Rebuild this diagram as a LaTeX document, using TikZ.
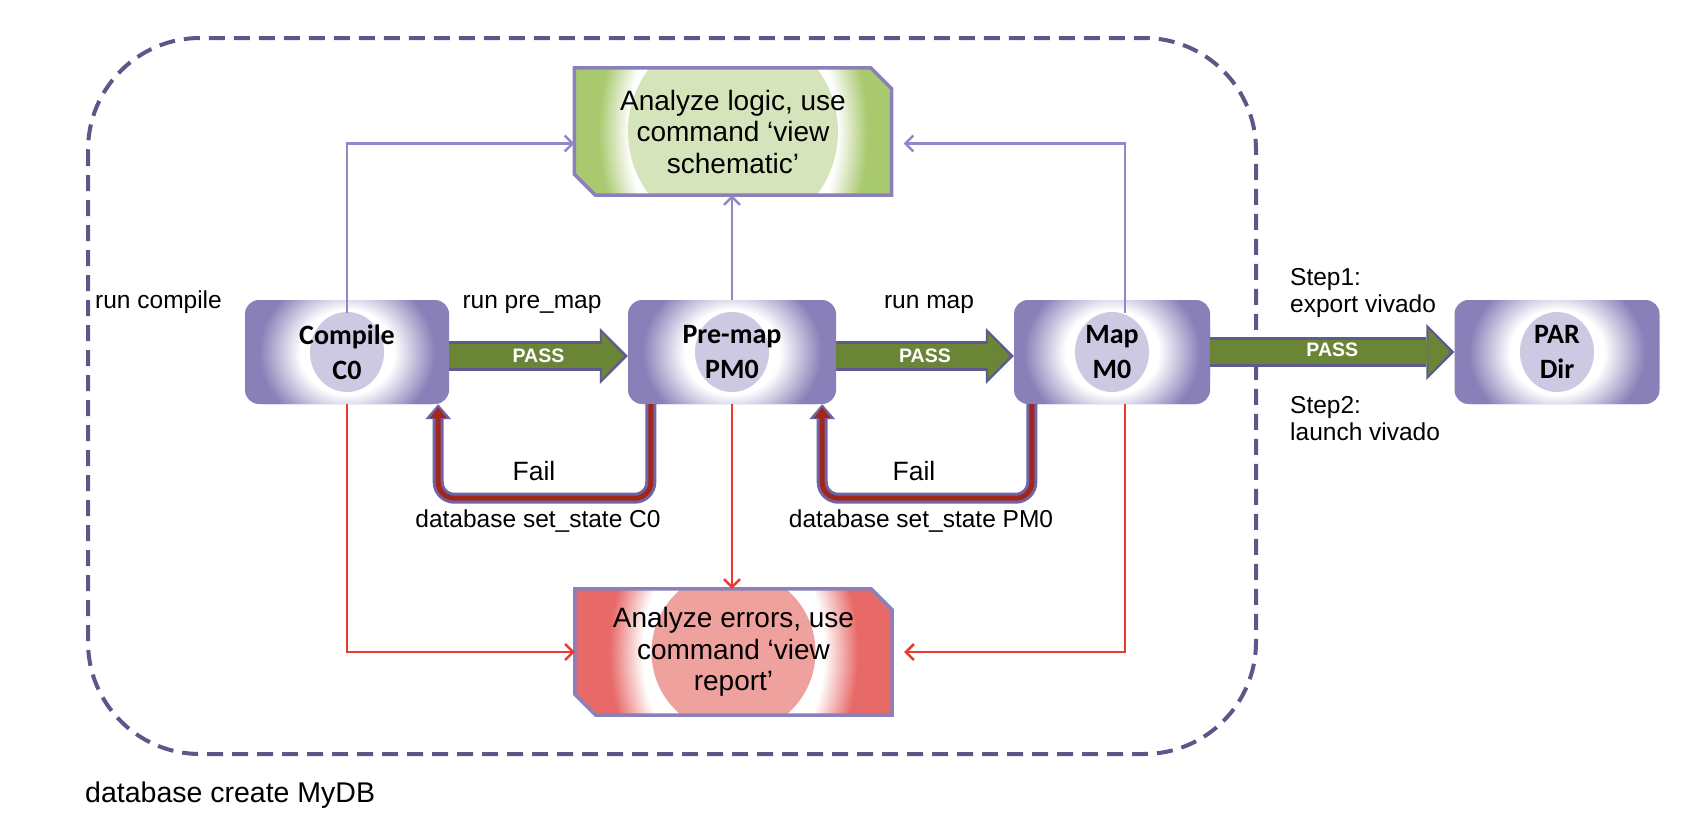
\documentclass[tikz,border=0pt]{standalone}
\usepackage{fontspec}
\setmainfont{Liberation Sans}
\newfontfamily\boxfont{Carlito}
\usetikzlibrary{arrows.meta,calc,backgrounds}

\definecolor{stagepurple}{HTML}{8A80B9}
\definecolor{stagecore}{HTML}{CEC8E2}
\definecolor{linkpurple}{HTML}{9287C9}
\definecolor{linkred}{HTML}{EC3A2E}
\definecolor{failpurple}{HTML}{6E66A3}
\definecolor{failred}{HTML}{A3261D}
\definecolor{passgreen}{HTML}{6B8536}
\definecolor{passedge}{HTML}{5F5B8E}
\definecolor{dashpurple}{HTML}{5F5588}
\definecolor{logicedge}{HTML}{A9C96F}
\definecolor{logiccore}{HTML}{D6E4BC}
\definecolor{erredge}{HTML}{E86A68}
\definecolor{errcore}{HTML}{EFA19D}
\definecolor{boxline}{HTML}{8A80BA}

\pgfdeclareradialshading{stageglow}{\pgfpoint{0bp}{0bp}}{color(0bp)=(white); color(11.5bp)=(white); color(21.5bp)=(stagepurple); color(50bp)=(stagepurple)}
\pgfdeclareradialshading{logicglow}{\pgfpoint{0bp}{0bp}}{color(0bp)=(white); color(15.5bp)=(white); color(20bp)=(logicedge); color(50bp)=(logicedge)}
\pgfdeclareradialshading{errglow}{\pgfpoint{0bp}{0bp}}{color(0bp)=(white); color(13.5bp)=(white); color(18.5bp)=(erredge); color(50bp)=(erredge)}

\newcommand\chamferpath[2]{\path[#2] (#1.north west) -- ([xshift=-21pt]#1.north east) -- ([yshift=-21pt]#1.north east) -- (#1.south east) -- ([xshift=21pt]#1.south west) -- ([yshift=21pt]#1.south west) -- cycle;}

\begin{document}
\begin{tikzpicture}[x=1pt,y=-1pt,
  stagebox/.style={rectangle, rounded corners=14pt, minimum width=#1, minimum height=104pt,
    inner sep=0pt, fill=stagepurple, align=center,
    font=\boxfont\bfseries\fontsize{28}{35}\selectfont,
    path picture={
      \shade[shading=stageglow] (path picture bounding box.center) ellipse [x radius=102pt, y radius=92pt];
      \fill[stagecore] (path picture bounding box.center) ellipse [x radius=37pt, y radius=40pt];}},
  stagebox/.default=204pt,
  notebox/.style={rectangle, minimum width=317pt, minimum height=127pt, inner sep=0pt,
    align=center, font=\fontsize{28}{31.5}\selectfont},
  lbl/.style={inner sep=0pt, font=\fontsize{24.5}{27}\selectfont},
  faillbl/.style={inner sep=0pt, font=\fontsize{26.5}{30}\selectfont},
  passtext/.style={inner sep=0pt, text=white, font=\bfseries\fontsize{19.5}{20}\selectfont},
  lightlink/.style={line width=2.5pt, draw=linkpurple, -{Straight Barb[length=8pt,width=16pt]}},
  redlink/.style={line width=2.5pt, draw=linkred, -{Straight Barb[length=8pt,width=16pt]}},
  passout/.style={line width=30pt, draw=passedge, -{Triangle[length=28pt,width=56pt,line width=0pt]}},
  passin/.style={line width=24pt, draw=passgreen, shorten >=4pt, -{Triangle[length=22pt,width=46pt,line width=0pt]}},
  failout/.style={line width=11pt, draw=failpurple, rounded corners=16pt, -{Triangle[length=15pt,width=26pt,line width=0pt]}},
  failin/.style={line width=5pt, draw=failred, rounded corners=16pt, shorten >=3pt, -{Triangle[length=11pt,width=17pt,line width=0pt]}}
]
\useasboundingbox (0,0) rectangle (1690,830);

% outer dashed frame
\draw[dashpurple, line width=4pt, dash pattern=on 16pt off 9pt, rounded corners=112pt] (88,38) rectangle (1256,754);

% stage boxes
\node[stagebox] (c0) at (347,352) {Compile\\C0};
\node[stagebox=208pt] (pm0) at (732,352) {Pre-map\\PM0};
\node[stagebox=196pt] (m0) at (1112,352) {Map\\M0};
\node[stagebox=205pt] (par) at (1557,352) {PAR\\Dir};

% note boxes
\node[notebox] (logic) at (733,131.5) {Analyze logic, use\\command ‘view\\schematic’};
\node[notebox, minimum height=126pt] (errors) at (733.5,652) {Analyze errors, use\\command ‘view\\report’};

\begin{scope}[on background layer]
  \begin{scope}
    \chamferpath{logic}{clip}
    \fill[logicedge] (logic.north west) rectangle (logic.south east);
    \shade[shading=logicglow] (logic.center) ellipse [x radius=168pt, y radius=230pt];
    \fill[logiccore] (logic.center) circle [radius=105pt];
  \end{scope}
  \begin{scope}
    \chamferpath{errors}{clip}
    \fill[erredge] (errors.north west) rectangle (errors.south east);
    \shade[shading=errglow] (errors.center) ellipse [x radius=168pt, y radius=230pt];
    \fill[errcore] (errors.center) circle [radius=82pt];
  \end{scope}
\end{scope}
\chamferpath{logic}{draw=boxline, line width=3.5pt, line join=miter}
\chamferpath{errors}{draw=boxline, line width=3.5pt, line join=miter}

% links to logic box
\draw[lightlink] ($(c0.north)+(0,13)$) |- ($(logic.west)+(0,12)$);
\draw[lightlink] (pm0.north) -- (pm0.north |- logic.south);
\draw[lightlink, shorten >=12pt] ($(m0.north)+(13,13)$) |- ($(logic.east)+(0,12)$);

% links to errors box
\draw[redlink] (c0.south) |- (errors.west);
\draw[redlink] (pm0.south) -- (pm0.south |- errors.north);
\draw[redlink, shorten >=12pt] ($(m0.south)+(13,0)$) |- (errors.east);

% PASS arrows
\draw[passout] ([yshift=-4pt]c0.east) -- ([yshift=-4pt]pm0.west);
\draw[passin] ([yshift=-4pt]c0.east) -- ([yshift=-4pt]pm0.west) node[passtext, midway] (pass1) {PASS};
\draw[passout] ([yshift=-4pt]pm0.east) -- ([yshift=-4pt]m0.west);
\draw[passin] ([yshift=-4pt]pm0.east) -- ([yshift=-4pt]m0.west) node[passtext, midway] (pass2) {PASS};
\draw[passout] (m0.east) -- (par.west);
\draw[passin] (m0.east) -- (par.west) node[passtext, midway, yshift=2pt] (pass3) {PASS};

% Fail arrows
\coordinate (f1a) at ($(pm0.south west)+(23,0)$);
\coordinate (f1b) at ($(c0.south east)+(-11,0)$);
\coordinate (f2a) at ($(m0.south west)+(18,0)$);
\coordinate (f2b) at ($(pm0.south east)+(-14,0)$);
\draw[failout] (f1a) -- ++(0,94) -| (f1b);
\draw[failin] (f1a) -- ++(0,94) -| (f1b);
\draw[failout] (f2a) -- ++(0,94) -| (f2b);
\draw[failin] (f2a) -- ++(0,94) -| (f2b);

% labels
\node[lbl, anchor=base west] (runcompile) at (95,308) {run compile};
\node[lbl, anchor=base] (runpremap) at (532,308) {run pre\_map};
\node[lbl, anchor=base] (runmap) at (929,308) {run map};
\node[faillbl, anchor=base] (fail1) at (534,480) {Fail};
\node[faillbl, anchor=base] (fail2) at (914,480) {Fail};
\node[lbl, anchor=base] (setc0) at (538,527) {database set\_state C0};
\node[lbl, anchor=base] (setpm0) at (921,527) {database set\_state PM0};
\node[lbl, anchor=west, align=left] (step1) at (1290,293) {Step1:\\export vivado};
\node[lbl, anchor=west, align=left] (step2) at (1290,419) {Step2:\\launch vivado};
\node[inner sep=0pt, font=\fontsize{28.5}{30}\selectfont, anchor=base west] (createdb) at (85,802) {database create MyDB};
\end{tikzpicture}
\end{document}
